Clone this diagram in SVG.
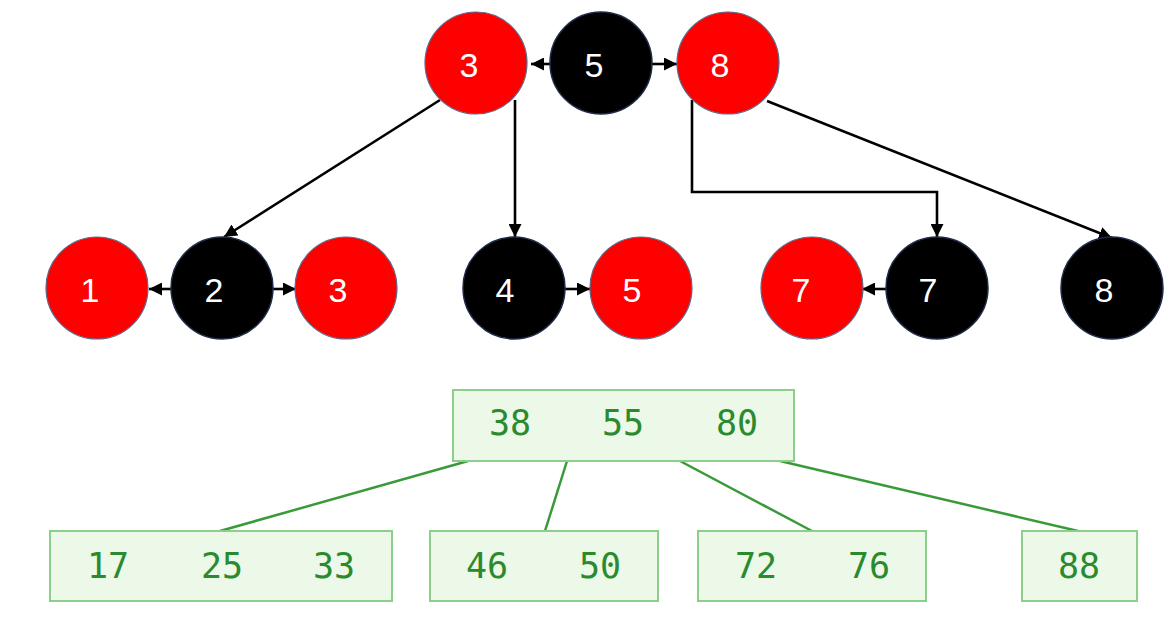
<svg xmlns="http://www.w3.org/2000/svg" width="1174" height="632" viewBox="0 0 1174 632">
<style>
.red{fill:#ff0000;stroke:#5a6a8a;stroke-width:1.2}
.blk{fill:#000;stroke:#1e2c4a;stroke-width:1.5}
.lbl{font-family:"Liberation Sans",Arial,sans-serif;font-size:34px;fill:#fff;text-anchor:middle}
.conn{stroke:#000;stroke-width:2.6;fill:none}
.box{fill:#ecf8e8;stroke:#8ccf8a;stroke-width:2}
.key{font-family:"DejaVu Sans Mono","Liberation Mono",monospace;font-size:35px;fill:#2a8a2e;text-anchor:middle}
.gl{stroke:#3a9a3a;stroke-width:2.5;fill:none}
</style>
<defs>
<marker id="ah" viewBox="0 0 10 10" refX="10" refY="5" markerWidth="5" markerHeight="5" markerUnits="strokeWidth" orient="auto">
<path d="M0,0 L10,5 L0,10 z" fill="#000"/>
</marker>
</defs>
<rect width="1174" height="632" fill="#fff"/>
<g id="connectors">
<line class="conn" x1="551" y1="64" x2="531" y2="64" marker-end="url(#ah)"/>
<line class="conn" x1="652" y1="64" x2="677" y2="64" marker-end="url(#ah)"/>
<line class="conn" x1="440" y1="100" x2="224" y2="237" marker-end="url(#ah)"/>
<line class="conn" x1="515" y1="100" x2="515" y2="237" marker-end="url(#ah)"/>
<polyline class="conn" points="692,100 692,192 937,192 937,237" marker-end="url(#ah)"/>
<line class="conn" x1="767" y1="101" x2="1112" y2="238" marker-end="url(#ah)"/>
<line class="conn" x1="173" y1="289" x2="149" y2="289" marker-end="url(#ah)"/>
<line class="conn" x1="272" y1="289" x2="296" y2="289" marker-end="url(#ah)"/>
<line class="conn" x1="563" y1="289" x2="590" y2="289" marker-end="url(#ah)"/>
<line class="conn" x1="887" y1="289" x2="862" y2="289" marker-end="url(#ah)"/>
<line class="gl" x1="468" y1="461" x2="220" y2="531"/>
<line class="gl" x1="567" y1="461" x2="545" y2="531"/>
<line class="gl" x1="680" y1="461" x2="812" y2="531"/>
<line class="gl" x1="780" y1="461" x2="1078" y2="531"/>
</g>
<g id="n_top3"><circle class="red" cx="476" cy="63" r="51"/><text class="lbl" x="469" y="77">3</text></g>
<g id="n_top5"><circle class="blk" cx="601" cy="63" r="51"/><text class="lbl" x="594" y="77">5</text></g>
<g id="n_top8"><circle class="red" cx="728" cy="63" r="51"/><text class="lbl" x="720" y="77">8</text></g>
<g id="n_1"><circle class="red" cx="97" cy="288" r="51"/><text class="lbl" x="90" y="302">1</text></g>
<g id="n_2"><circle class="blk" cx="222" cy="288" r="51"/><text class="lbl" x="214" y="302">2</text></g>
<g id="n_3"><circle class="red" cx="346" cy="288" r="51"/><text class="lbl" x="338" y="302">3</text></g>
<g id="n_4"><circle class="blk" cx="514" cy="288" r="51"/><text class="lbl" x="505" y="302">4</text></g>
<g id="n_5"><circle class="red" cx="641" cy="288" r="51"/><text class="lbl" x="632" y="302">5</text></g>
<g id="n_7r"><circle class="red" cx="812" cy="288" r="51"/><text class="lbl" x="801" y="302">7</text></g>
<g id="n_7b"><circle class="blk" cx="937" cy="288" r="51"/><text class="lbl" x="928" y="302">7</text></g>
<g id="n_8"><circle class="blk" cx="1112" cy="288" r="51"/><text class="lbl" x="1104" y="302">8</text></g>
<g id="b_root"><rect class="box" x="453" y="390" width="341" height="71"/>
<text class="key" x="510" y="435">38</text><text class="key" x="623" y="435">55</text><text class="key" x="737" y="435">80</text></g>
<g id="b_1"><rect class="box" x="50" y="531" width="342" height="70"/>
<text class="key" x="108" y="578">17</text><text class="key" x="222" y="578">25</text><text class="key" x="334" y="578">33</text></g>
<g id="b_2"><rect class="box" x="430" y="531" width="228" height="70"/>
<text class="key" x="487" y="578">46</text><text class="key" x="600" y="578">50</text></g>
<g id="b_3"><rect class="box" x="698" y="531" width="228" height="70"/>
<text class="key" x="756" y="578">72</text><text class="key" x="869" y="578">76</text></g>
<g id="b_4"><rect class="box" x="1022" y="531" width="115" height="70"/>
<text class="key" x="1079" y="578">88</text></g>
</svg>
